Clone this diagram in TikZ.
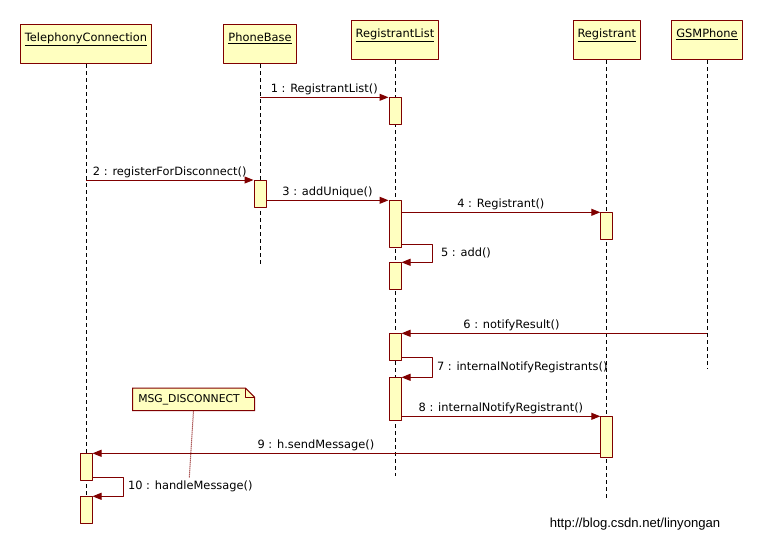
\documentclass[tikz,border=0pt]{standalone}
\usepackage{fontspec}
\setmainfont{DejaVu Sans}
\newfontfamily\urlfont{Liberation Sans}
\usetikzlibrary{arrows.meta,positioning,backgrounds}
\definecolor{umlred}{HTML}{800000}
\definecolor{umlfill}{HTML}{FFFFC0}
\tikzset{
	head/.style={draw=umlred,fill=umlfill,line width=1pt,inner xsep=4.5pt,inner ysep=0pt,
		text height=16.5pt,text depth=22.5pt,anchor=north},
	act/.style={draw=umlred,fill=umlfill,line width=1pt,minimum width=12pt,inner sep=0pt,anchor=north},
	life/.style={dash pattern=on 4pt off 3pt,line width=0.9pt},
	msg/.style={->,umlred,line width=1pt},
	lbl/.style={text=black,inner sep=2pt},
	notebox/.style={minimum width=121.6pt,minimum height=22pt,inner sep=0pt,font=\fontsize{10.8}{13}\selectfont}
}
\begin{document}
\begin{tikzpicture}[x=1pt,y=-1pt,>={Triangle[length=9pt,width=7pt]},line join=round,
	font=\fontsize{11.4}{13}\selectfont]
		\useasboundingbox (0,0) rectangle (762,557);
		\def\xtc{86} \def\xpb{260} \def\xrl{395} \def\xrg{606.8} \def\xgsm{707} % lifelines
		% heads
		\node[head] (tc) at (\xtc,24.3) {\underline{TelephonyConnection}};
		\node[head] (pb) at (\xpb,24.3) {\underline{PhoneBase}};
		\node[head] (rl) at (\xrl,20.3) {\underline{RegistrantList}};
		\node[head] (rg) at (\xrg,20.3) {\underline{Registrant}};
		\node[head] (gsm) at (\xgsm,20.3) {\underline{GSMPhone}};
		% lifeline ends
		\coordinate (pbend) at (\xpb,265);
		\coordinate (rlend) at (\xrl,476);
		\coordinate (rgend) at (\xrg,500);
		\coordinate (gsmend) at (\xgsm,369.3);
		\coordinate (tcend) at (\xtc,523.3);
		\draw[life] (tc) -- (tcend);
		\draw[life] (pb) -- (pbend);
		\draw[life] (rl) -- (rlend);
		\draw[life] (rg) -- (rgend);
		\draw[life] (gsm) -- (gsmend);
		% activations
		\node[act,minimum height=27pt] (a1) at (\xrl,97.3) {};
		\node[act,minimum height=27.3pt] (pb1) at (\xpb,180) {};
		\node[act,minimum height=47pt] (a2) at (\xrl,200.3) {};
		\node[act,minimum height=27pt] (r1) at (\xrg,212.3) {};
		\node[act,minimum height=26.7pt] (a3) at (\xrl,262.3) {};
		\node[act,minimum height=27pt] (a4) at (\xrl,333.3) {};
		\node[act,minimum height=43pt] (a5) at (\xrl,377.3) {};
		\node[act,minimum height=40.7pt] (r2) at (\xrg,416.3) {};
		\node[act,minimum height=26.7pt] (t1) at (\xtc,453.3) {};
		\node[act,minimum height=27pt] (t2) at (\xtc,496.3) {};
		% messages
		\draw[msg] (pb |- a1.north) -- node[lbl,above=0pt]{1 : RegistrantList()} (a1.north west);
		\draw[msg] (tc |- pb1.north) -- node[lbl,above=0pt]{2 : registerForDisconnect()} (pb1.north west);
		\draw[msg] (pb1.east |- a2.north) -- node[lbl,above=0pt]{3 : addUnique()} (a2.north west);
		\draw[msg] (a2.east |- r1.north) -- node[lbl,above=0pt]{4 : Registrant()} (r1.north west);
		\draw[msg] ([yshift=4pt]a2.south east) -- ++(31,0) coordinate (s5)
			-- node[lbl,right=6pt]{5 : add()} (s5 |- a3.north) -- (a3.north east);
		\draw[msg] (gsm |- a4.north) -- node[lbl,above=0pt,pos=0.64]{6 : notifyResult()} (a4.north east);
		\draw[msg] ([yshift=4pt]a4.south east) -- ++(31,0) coordinate (s7)
			-- node[lbl,right=2pt]{7 : internalNotifyRegistrants()} (s7 |- a5.north) -- (a5.north east);
		\draw[msg] (a5.east |- r2.north) -- node[lbl,above=0pt]{8 : internalNotifyRegistrant()} (r2.north west);
		\draw[msg] (r2.west |- t1.north) -- node[lbl,above=0pt,pos=0.56]{9 : h.sendMessage()} (t1.north east);
		\draw[msg] ([yshift=4pt]t1.south east) -- ++(31,0) coordinate (s10)
			-- node[lbl,right=2pt]{10 : handleMessage()} (s10 |- t2.north) -- (t2.north east);
		% note
		\node[notebox] (note) at (193.5,399.3) {\hspace*{-9pt}MSG\_DISCONNECT};
		\begin{scope}[on background layer]
			\draw[umlred,fill=umlfill,line width=1pt] (note.north west) -- ([xshift=-9pt]note.north east)
				-- ([yshift=-9pt]note.north east) -- (note.south east) -- (note.south west) -- cycle;
		\end{scope}
		\draw[umlred,line width=0.8pt] ([xshift=-9pt]note.north east) -- ([xshift=-9pt,yshift=-9pt]note.north east)
			-- ([yshift=-9pt]note.north east);
		\coordinate (n10) at (189.3,477.7);
		\draw[umlred,densely dotted,line width=1pt] (note.south) -- (n10);
		\node[font=\urlfont\fontsize{13.1}{15}\selectfont] (url) at (635,524.3) {http://blog.csdn.net/linyongan};
\end{tikzpicture}
\end{document}
